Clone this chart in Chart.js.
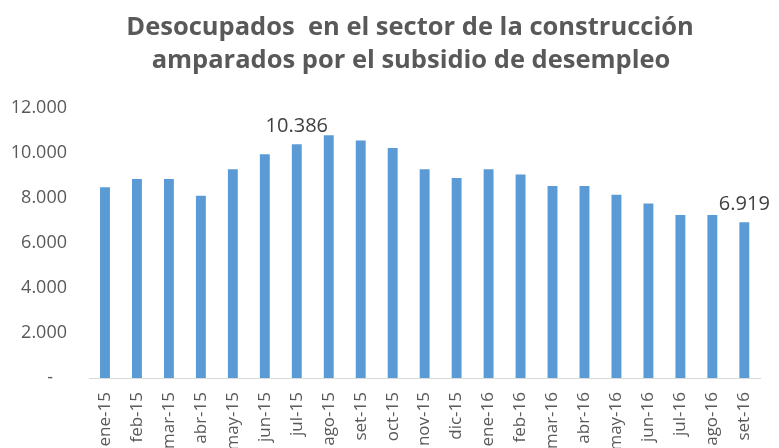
<!DOCTYPE html>
<html>
<head>
  <title>Desocupados construccion</title>
  <script src="https://cdn.jsdelivr.net/npm/chart.js"></script>
  <style>
    html, body { margin: 0; padding: 0; background: #fff; overflow: hidden; }
    #wrap { width: 779px; height: 448px; }
  </style>
</head>
<body>
  <div id="wrap"><canvas id="myChart" width="779" height="448"></canvas></div>
  <script>
    var meses = ['ene-15','feb-15','mar-15','abr-15','may-15','jun-15','jul-15','ago-15','set-15','oct-15','nov-15','dic-15',
                 'ene-16','feb-16','mar-16','abr-16','may-16','jun-16','jul-16','ago-16','set-16'];
    var desocupados = [8480, 8850, 8850, 8100, 9280, 9950, 10386, 10790, 10560, 10220, 9280, 8890,
                       9280, 9040, 8530, 8530, 8140, 7760, 7240, 7240, 6919];
    var titulo = ['Desocupados  en el sector de la construcción', 'amparados por el subsidio de desempleo'];
    var etiquetados = [6, 20]; // bars that carry a value label

    function miles(v) {
      return String(v).replace(/\B(?=(\d{3})+(?!\d))/g, '.');
    }

    // value labels above selected bars
    var valueLabels = {
      id: 'valueLabels',
      afterDatasetsDraw: function(chart) {
        var ctx = chart.ctx;
        var meta = chart.getDatasetMeta(0);
        ctx.save();
        ctx.font = '20px "Open Sans"';
        ctx.fillStyle = '#404040';
        ctx.textAlign = 'center';
        ctx.textBaseline = 'alphabetic';
        etiquetados.forEach(function(i) {
          var bar = meta.data[i];
          ctx.fillText(miles(desocupados[i]), bar.x, bar.y - 12);
        });
        ctx.restore();
      }
    };

    // title is centred a bit off the canvas middle in the original, so draw it by hand
    var tituloPlugin = {
      id: 'tituloPlugin',
      afterDraw: function(chart) {
        var ctx = chart.ctx;
        ctx.save();
        ctx.font = 'bold 25.5px "Open Sans"';
        ctx.fillStyle = '#595959';
        ctx.textAlign = 'center';
        ctx.textBaseline = 'alphabetic';
        ctx.fillText(titulo[0], 410, 35);
        ctx.fillText(titulo[1], 411, 68);
        ctx.restore();
      }
    };

    var ctx = document.getElementById('myChart').getContext('2d');
    var myChart = new Chart(ctx, {
      type: 'bar',
      data: {
        labels: meses,
        datasets: [{
          data: desocupados,
          backgroundColor: '#5B9BD5',
          categoryPercentage: 1,
          barPercentage: 0.31
        }]
      },
      plugins: [valueLabels, tituloPlugin],
      options: {
        responsive: false,
        animation: false,
        layout: { padding: { left: 0, right: 12, top: 108, bottom: 0 } },
        plugins: {
          legend: { display: false },
          tooltip: { enabled: false },
          title: { display: false }
        },
        scales: {
          x: {
            grid: { display: false, drawTicks: false },
            border: { display: true, color: '#D9D9D9', width: 1 },
            ticks: {
              color: '#595959',
              font: { family: 'Open Sans', size: 17 },
              maxRotation: 90,
              minRotation: 90,
              autoSkip: false,
              padding: 14
            },
            afterFit: function(s) { s.height = 70; }
          },
          y: {
            min: 0,
            max: 12000,
            grid: { display: false, drawTicks: false },
            border: { display: false },
            ticks: {
              stepSize: 2000,
              color: '#595959',
              font: { family: 'Open Sans', size: 18 },
              padding: 22,
              callback: function(v) { return v === 0 ? '-   ' : miles(v); }
            },
            afterFit: function(s) { s.width = 89; }
          }
        }
      }
    });
  </script>
</body>
</html>
